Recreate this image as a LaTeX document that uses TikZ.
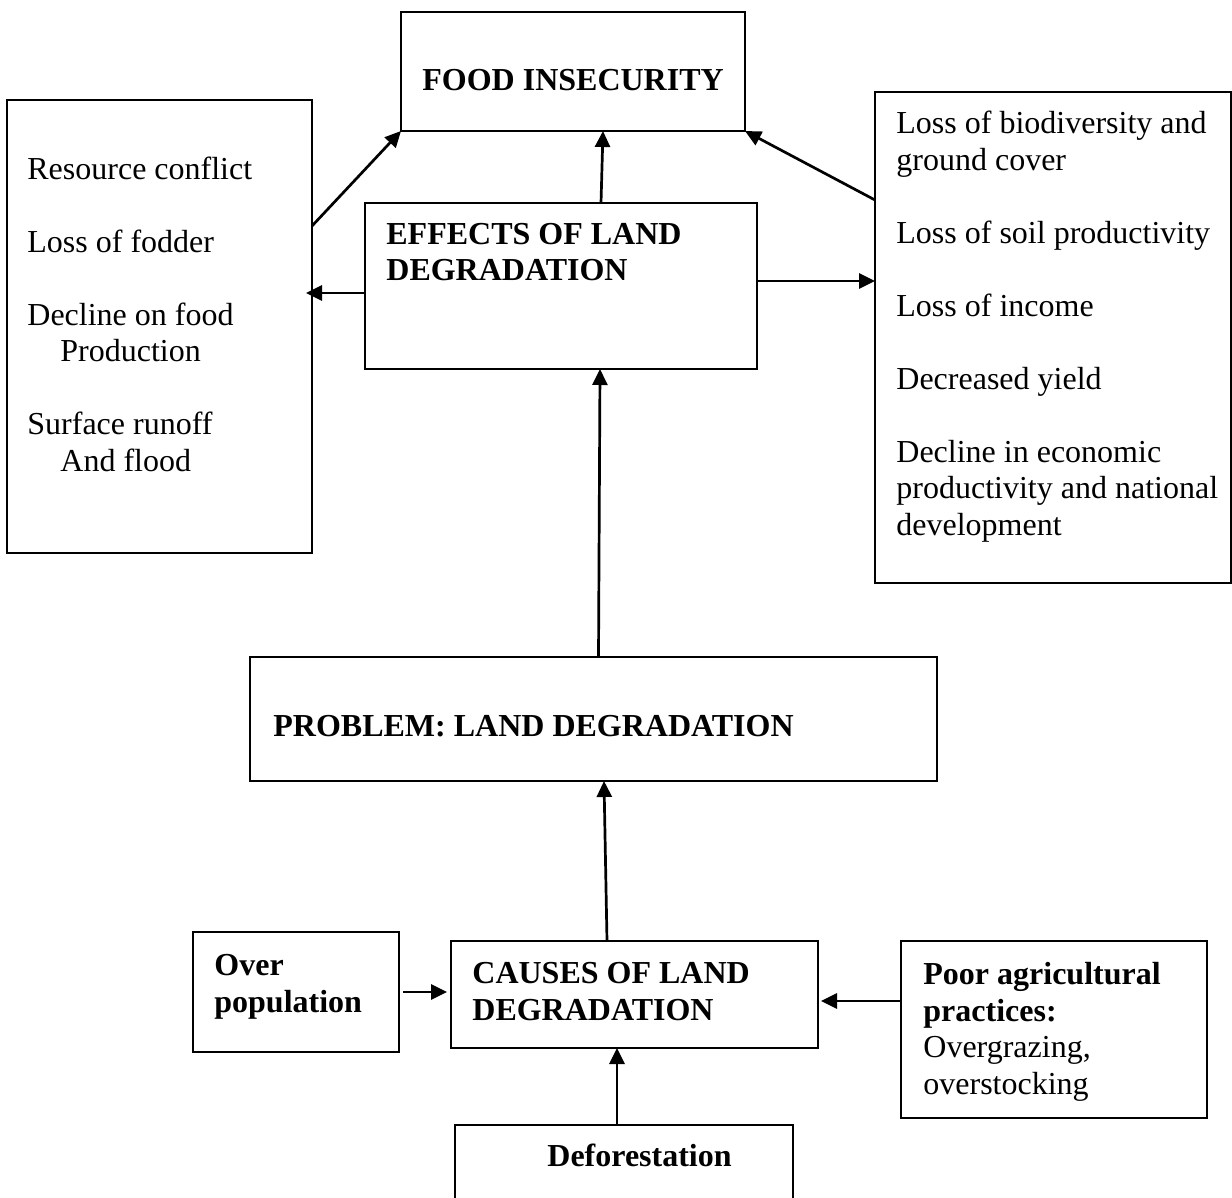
\documentclass[tikz,border=0pt]{standalone}
\usepackage{fontspec}
\setmainfont{Liberation Serif}
\usepackage{tikz}
\usetikzlibrary{arrows.meta}

\begin{document}
\begin{tikzpicture}[x=0.5pt,y=-0.5pt,>={Triangle[length=8pt,width=7.5pt]},
  font=\fontsize{16}{18.25}\selectfont,
  box/.style={draw,line width=0.9pt,inner sep=0pt,outer sep=0pt},
  txt/.style={anchor=base west,align=left,inner sep=0pt},
  arr/.style={->,line width=1.35pt}]
\useasboundingbox (0,0) rectangle (1232,1198);
\clip (0,0) rectangle (1232,1198);
% boxes
\node[box,minimum width=172pt,minimum height=59.5pt] (food) at (573,71.5) {};
\node[box,minimum width=152.5pt,minimum height=226.5pt] (effl) at (159.5,326.5) {};
\node[box,minimum width=178pt,minimum height=245.5pt] (effr) at (1053,337.5) {};
\node[box,minimum width=196pt,minimum height=83pt] (effects) at (561,286) {};
\node[box,minimum width=343.5pt,minimum height=62pt] (problem) at (593.5,719) {};
\node[box,minimum width=183.5pt,minimum height=53.5pt] (causes) at (634.5,994.5) {};
\node[box,minimum width=169pt,minimum height=52.5pt] (defor) at (624,1177.5) {};
\node[box,minimum width=103pt,minimum height=60pt] (overpop) at (296,992) {};
\node[box,minimum width=153pt,minimum height=88.5pt] (poor) at (1054,1029.5) {};
% texts (anchored at the baseline of their last line)
\node[txt] (foodtxt) at (422,91) {\textbf{FOOD INSECURITY}};
\node[txt] (effltxt) at (27,471) {Resource conflict\\[18.25pt]Loss of fodder\\[18.25pt]
  Decline on food\\\hspace*{16.5pt}Production\\[18.25pt]Surface runoff\\\hspace*{16.5pt}And flood};
\node[txt] (effrtxt) at (896,535) {Loss of biodiversity and\\ground cover\\[18.25pt]
  Loss of soil productivity\\[18.25pt]Loss of income\\[18.25pt]Decreased yield\\[18.25pt]
  Decline in economic\\productivity and national\\development};
\node[txt] (effectstxt) at (386,281) {\textbf{EFFECTS OF LAND}\\\textbf{DEGRADATION}};
\node[txt] (problemtxt) at (273,736) {\textbf{PROBLEM: LAND DEGRADATION}};
\node[txt] (causestxt) at (472,1020) {\textbf{CAUSES OF LAND}\\\textbf{DEGRADATION}};
\node[txt] (defortxt) at (547,1166) {\textbf{Deforestation}};
\node[txt] (overpoptxt) at (214,1012) {\textbf{Over}\\\textbf{population}};
\node[txt] (poortxt) at (923,1094) {\textbf{Poor agricultural}\\\textbf{practices:}\\
  Overgrazing,\\overstocking};
% connectors
\coordinate (a4) at ([yshift=-3.5pt]effects.west);
\coordinate (a5) at ([yshift=28.25pt]effr.west);
\coordinate (a10) at ([yshift=14.25pt]poor.west);
\draw[arr] ([yshift=-63pt]effl.north east) -- (food.south west);
\draw[arr] ([xshift=20pt]effects.north) -- ([xshift=15pt]food.south);
\draw[arr] ([yshift=-54pt]effr.north west) -- (food.south east);
\draw[arr] (a4) -- ([xshift=-3pt]a4 -| effl.east);
\draw[arr] (a5 -| effects.east) -- (a5);
\draw[arr] ([xshift=2.5pt]problem.north) -- ([xshift=19.5pt]effects.south);
\draw[arr] ([xshift=-13.75pt]causes.north) -- ([xshift=5.25pt]problem.south);
\draw[arr] ([xshift=-3.5pt]defor.north) -- ([xshift=-8.75pt]causes.south);
\draw[arr,shorten <=2pt,shorten >=2pt] (overpop.east) -- (overpop.east -| causes.west);
\draw[arr,shorten >=1.5pt] (a10) -- (a10 -| causes.east);
\end{tikzpicture}
\end{document}
